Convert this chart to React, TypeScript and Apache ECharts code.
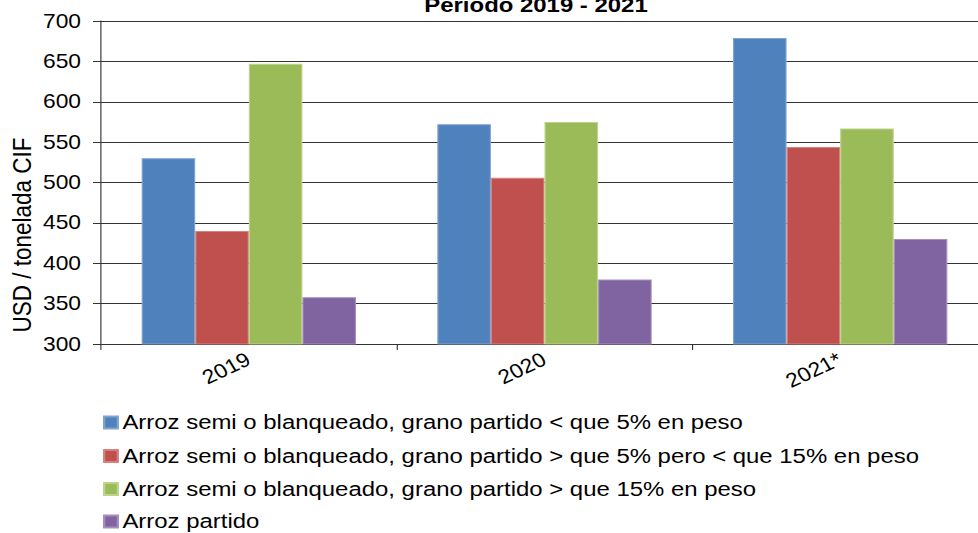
import React, { useEffect, useRef } from "react";
import * as echarts from "echarts";

const categories = ["2019", "2020", "2021*"];
const seriesNames = [
  "Arroz semi o blanqueado, grano partido < que 5% en peso",
  "Arroz semi o blanqueado, grano partido > que 5% pero < que 15% en peso",
  "Arroz semi o blanqueado, grano partido > que 15% en peso",
  "Arroz partido",
];
const blueValues = [530, 572, 679];
const redValues = [440, 506, 544];
const greenValues = [647, 575, 567];
const purpleValues = [358, 380, 430];
const colors = ["#4F81BD", "#C0504D", "#9BBB59", "#8064A2"];
const borders = ["#7FA3D0", "#D8827F", "#BBD38A", "#A58DC0"];
const titleText = "Periodo 2019 - 2021";
const yAxisTitle = "USD / tonelada CIF";

// horizontal stretch of the whole drawing
const S = 1.14;
const W = 900; // internal width (wider than the visible page, clipped by wrapper)
const X = (v: number) => v / S;

export default function App() {
  const ref = useRef<HTMLDivElement>(null);
  useEffect(() => {
    if (!ref.current) return;
    const chart = echarts.init(ref.current, null, { renderer: "svg" });
    const font = "Liberation Sans, Arial, sans-serif";
    const data = [blueValues, redValues, greenValues, purpleValues];
    const legendCenters = [423, 456.5, 489.5, 522];
    chart.setOption({
      animation: false,
      textStyle: { fontFamily: font },
      grid: { left: X(101), top: 21, width: X(887), height: 323, containLabel: false },
      legend: seriesNames.map((n, i) => ({
        orient: "vertical",
        left: X(103),
        top: legendCenters[i] - 11,
        itemWidth: 12,
        itemHeight: 12,
        icon: "rect",
        padding: 0,
        textStyle: { fontSize: 21, color: "#000", fontFamily: font, padding: [0, 0, 0, -1] },
        data: [n],
      })),
      xAxis: {
        type: "category",
        data: categories,
        axisLine: { lineStyle: { color: "#333", width: 1 } },
        axisTick: { show: true, length: 6, lineStyle: { color: "#333" } },
        axisLabel: { rotate: 28, fontSize: 20, color: "#000", margin: 14, fontFamily: font },
      },
      yAxis: {
        type: "value",
        min: 300,
        max: 700,
        interval: 50,
        axisLine: { show: true, lineStyle: { color: "#333", width: 1 } },
        axisTick: { show: true, length: X(8), inside: false, lineStyle: { color: "#333" } },
        axisLabel: { fontSize: 20, color: "#000", margin: X(20), fontFamily: font },
        splitLine: { show: true, lineStyle: { color: "#333", width: 1 } },
      },
      graphic: [
        {
          type: "text",
          x: X(536),
          y: 15,
          style: {
            text: titleText,
            textAlign: "center",
            textVerticalAlign: "bottom",
            font: "bold 21px Liberation Sans, Arial, sans-serif",
            fill: "#000",
          },
        },
        {
          type: "text",
          x: X(22),
          y: 235,
          rotation: Math.PI / 2,
          style: {
            text: yAxisTitle,
            textAlign: "center",
            textVerticalAlign: "middle",
            font: "22.5px Liberation Sans, Arial, sans-serif",
            fill: "#000",
          },
        },
      ],
      series: data.map((d, i) => ({
        name: seriesNames[i],
        type: "bar",
        data: d,
        barGap: "0%",
        barCategoryGap: "27.5%",
        itemStyle: { color: colors[i], borderColor: borders[i], borderWidth: 1 },
      })),
    });
    return () => chart.dispose();
  }, []);
  return (
    <div
      style={{
        width: 978,
        height: 533,
        position: "absolute",
        left: 0,
        top: 0,
        overflow: "hidden",
      }}
    >
      <div
        ref={ref}
        style={{
          width: W,
          height: 533,
          position: "absolute",
          left: 0,
          top: 0,
          transform: `scaleX(${S})`,
          transformOrigin: "0 0",
        }}
      />
    </div>
  );
}
